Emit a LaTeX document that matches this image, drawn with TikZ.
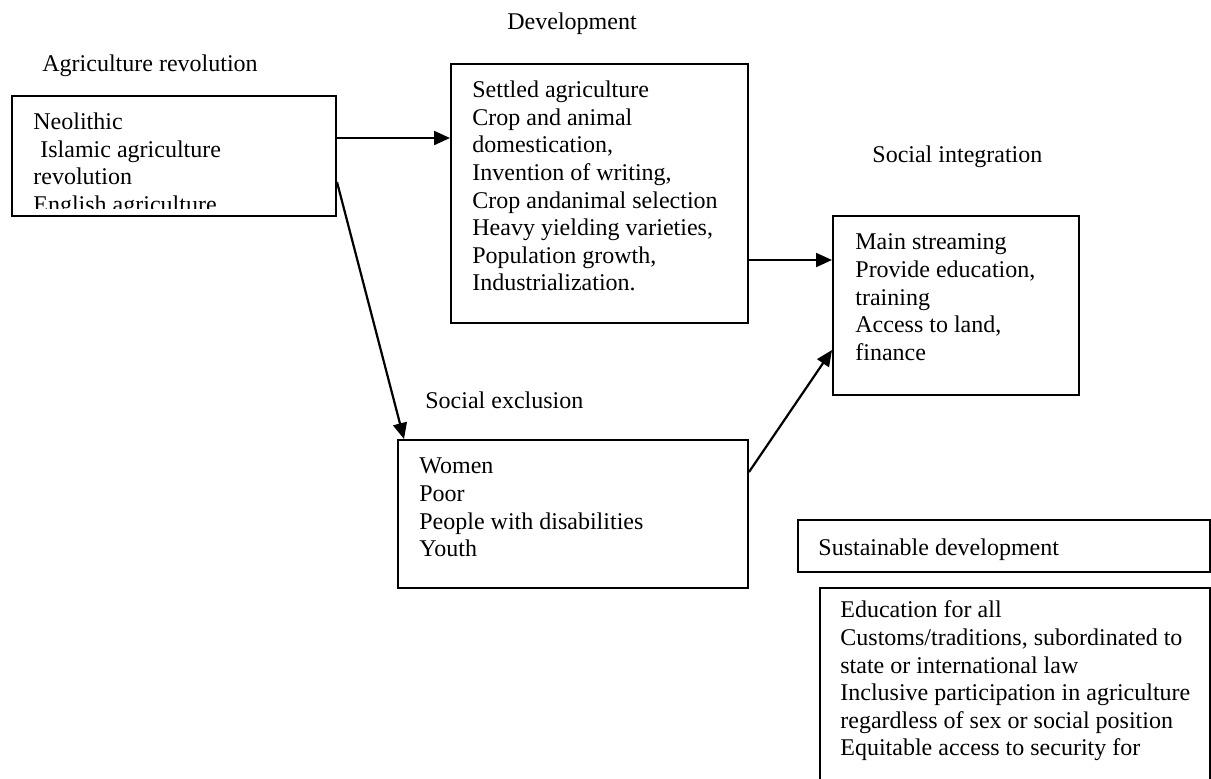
\documentclass[tikz,border=0pt]{standalone}
\usepackage{fontspec}
\setmainfont{Liberation Serif}
\usetikzlibrary{arrows.meta}
\usetikzlibrary{positioning}

\begin{document}
\begin{tikzpicture}[x=0.5pt,y=-0.5pt,
	box/.style={draw, line width=1pt, inner sep=0pt},
	txt/.style={anchor=north west, yshift=9.66pt, inner sep=0pt, align=left, font=\fontsize{12pt}{13.8pt}\selectfont, execute at begin node=\strut},
	arr/.style={line width=1.1pt, -{Triangle[length=8pt,width=7pt]}}]
	\useasboundingbox (0,0) rectangle (1211,778);
	% titles
	\node[txt] (agrilabel) at (42,71) {Agriculture revolution};
	\node[txt] (devlabel) at (507,29) {Development};
	\node[txt] (integlabel) at (872,162) {Social integration};
	\node[txt] (excllabel) at (425,408) {Social exclusion};
	% boxes
	\node[box, minimum width=162pt, minimum height=60pt] (agri) at (174,156) {};
	\node[box, minimum width=148.5pt, minimum height=129.5pt] (dev) at (599.5,193.5) {};
	\node[box, minimum width=123pt, minimum height=89.5pt] (integ) at (956,305.5) {};
	\node[box, minimum width=175pt, minimum height=74pt] (excl) at (573,514) {};
	\node[box, minimum width=206pt, minimum height=26pt] (sust) at (1004,546) {};
	\node[box, minimum width=195pt, minimum height=116pt] (sustlist) at (1015,704) {};
	% box texts
	\begin{scope}
		\clip (agri.north west) rectangle ([yshift=4.5pt]agri.south east);
		\node[txt] (agritext) at (33,132) {Neolithic\\\hspace{3.5pt}Islamic agriculture\\revolution\\English agriculture};
	\end{scope}
	\node[txt] (devtext) at (472,100) {Settled agriculture\\Crop and animal\\domestication,\\Invention of writing,\\Crop andanimal selection\\Heavy yielding varieties,\\Population growth,\\Industrialization.};
	\node[txt] (integtext) at (855,253) {Main streaming\\Provide education,\\training\\Access to land,\\finance};
	\node[txt] (excltext) at (419,477) {Women\\Poor\\People with disabilities\\Youth};
	\node[txt] (susttext) at (818,555) {Sustainable development};
	\node[txt] (sustlisttext) at (840,620) {Education for all\\Customs/traditions, subordinated to\\state or international law\\Inclusive participation in agriculture\\regardless of sex or social position\\Equitable access to security for};
	% arrows
	\draw[arr] ([yshift=9pt]agri.east) -- ([yshift=9pt]agri.east -| dev.west);
	\draw[arr] ([yshift=-33.25pt]dev.east) -- ([yshift=-33.25pt]dev.east -| integ.west);
	\draw[arr] ([yshift=-13pt]agri.east) -- ([xshift=3.5pt]excl.north west);
	\draw[arr] ([yshift=21pt]excl.east) -- ([yshift=-22.25pt]integ.west);
\end{tikzpicture}
\end{document}
